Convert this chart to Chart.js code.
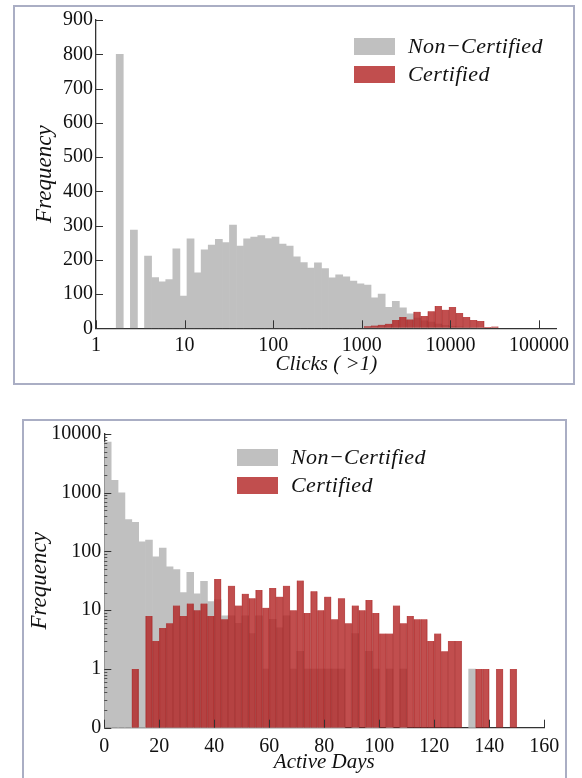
<!DOCTYPE html>
<html>
<head>
<meta charset="utf-8">
<script src="https://cdn.jsdelivr.net/npm/chart.js@4/dist/chart.umd.min.js"></script>
<style>
    body { margin: 0; background: #fff; width: 582px; height: 778px; overflow: hidden; position: relative; }
    .frame { position: absolute; box-sizing: border-box; border: 2.5px solid rgb(170, 174, 196); }
    canvas { position: absolute; left: 0; }
    .legend { position: absolute; font-family: 'Liberation Serif', serif; font-style: italic; font-size: 22px; letter-spacing: 0.4px; color: #111; }
    .legend .item { position: absolute; white-space: nowrap; }
    .legend .box { position: absolute; width: 41px; height: 17px; }
    .legend .txt { position: absolute; left: 54px; top: -5px; }
</style>
</head>
<body>
<div class="frame" style="left:13px; top:5px; width:562px; height:380px;"></div>
<div class="frame" style="left:22px; top:419px; width:545px; height:400px;"></div>
<canvas id="clicksChart" width="582" height="400" style="top:0"></canvas>
<canvas id="daysChart" width="582" height="378" style="top:400px"></canvas>
<div id="clicksLegend" class="legend" style="left:354px; top:38px;"></div>
<div id="daysLegend" class="legend" style="left:237px; top:449px;"></div>
<script>
    // top histogram: clicks, log10 bins
    const clickEdge0 = 0.228;
    const clickBinW = 0.0799;
    const nonCertClicks = [800, 0, 287, 0, 211, 148, 136, 142, 232, 94,
        261, 162, 229, 243, 260, 250, 301, 240, 261, 266,
        271, 262, 266, 246, 240, 209, 192, 176, 191, 174,
        147, 156, 150, 138, 130, 126, 89, 100, 61, 79,
        60, 42, 30, 22, 18, 12, 9, 6, 4, 3,
        2, 1, 0, 0];
    const certClicks = [0, 0, 0, 0, 0, 0, 0, 0, 0, 0,
        0, 0, 0, 0, 0, 0, 0, 0, 0, 0,
        0, 0, 0, 0, 0, 0, 0, 0, 0, 0,
        0, 0, 0, 0, 0, 6, 8, 10, 13, 24,
        33, 26, 48, 36, 50, 65, 54, 62, 45, 33,
        24, 21, 4, 5];
    const clickTicks = [1, 10, 100, 1000, 10000, 100000];
    const freqTicks = [0, 100, 200, 300, 400, 500, 600, 700, 800, 900];

    // bottom histogram: active days, bins of 2.5 days
    const dayBinW = 2.5;
    const nonCertDays = [7300, 1620, 1000, 350, 312, 146, 156, 81, 114, 55,
        49, 20, 44, 19, 31, 14, 15, 8, 8, 6,
        8, 4, 8, 1, 7, 5, 8, 1, 2, 1,
        1, 1, 1, 1, 1, 0, 4, 0, 2, 1,
        0, 1, 0, 1, 0, 0, 0, 0, 0, 0,
        0, 0, 0, 1, 0, 0, 0, 0, 0, 0];
    const certDays = [0, 0, 0, 0, 1, 0, 8, 3, 5, 6,
        12, 8, 13, 10, 13, 8, 34, 7, 26, 12,
        19, 16, 22, 11, 24, 17, 26, 10, 32, 9,
        21, 10, 17, 7, 16, 6, 12, 10, 15, 9,
        4, 4, 12, 6, 8, 7, 7, 3, 4, 2,
        3, 3, 0, 0, 1, 1, 0, 1, 0, 1];
    const dayTicks = [0, 20, 40, 60, 80, 100, 120, 140, 160];
    const logFreqTicks = [0.1, 1, 10, 100, 1000, 10000];

    const labels = ['Non\u2212Certified', 'Certified'];
    const grey = 'rgb(192, 192, 192)';
    const red = 'rgba(178, 34, 34, 0.8)';
    const serif = "'Liberation Serif', 'DejaVu Serif', serif";

    function toPoints(xs, ys) {
        return ys.map((y, i) => ({ x: xs[i], y: y > 0 ? y : null }));
    }

    function datasets(xs, grey_ys, red_ys) {
        return [{
            label: labels[0],
            data: toPoints(xs, grey_ys),
            backgroundColor: grey,
            borderWidth: 0,
            order: 2
        }, {
            label: labels[1],
            data: toPoints(xs, red_ys),
            backgroundColor: red,
            borderColor: 'rgba(150, 20, 20, 0.55)',
            borderWidth: { left: 0.6, right: 0.6, top: 0, bottom: 0 },
            order: 1
        }];
    }

    // ticks pointing into the plot, like the original figure
    const inwardTicks = {
        id: 'inwardTicks',
        afterDatasetsDraw(chart, args, opts) {
            const { ctx, chartArea, scales } = chart;
            ctx.save();
            ctx.strokeStyle = '#333';
            ctx.lineWidth = 1;
            function line(x1, y1, x2, y2) {
                ctx.beginPath();
                ctx.moveTo(x1, y1);
                ctx.lineTo(x2, y2);
                ctx.stroke();
            }
            scales.x.ticks.forEach(t => {
                const px = Math.round(scales.x.getPixelForValue(t.value)) + 0.5;
                line(px, chartArea.bottom, px, chartArea.bottom - 8);
            });
            scales.y.ticks.forEach(t => {
                const py = Math.round(scales.y.getPixelForValue(t.value)) + 0.5;
                line(chartArea.left, py, chartArea.left + 7, py);
            });
            if (opts.minorY) {
                ctx.lineWidth = 0.8;
                [0.1, 1, 10, 100, 1000].forEach(d => {
                    for (let m = 2; m < 10; m++) {
                        const py = Math.round(scales.y.getPixelForValue(m * d)) + 0.5;
                        line(chartArea.left, py, chartArea.left + 3, py);
                    }
                });
            }
            ctx.restore();
        }
    };

    function axisCommon(titleSize) {
        return {
            grid: { display: true, drawOnChartArea: false, drawTicks: false, offset: false },
            border: { display: true, color: '#333', width: 1.3 },
            ticks: { color: '#111', font: { family: serif, size: 20 } },
            title: { display: true, color: '#111', font: { family: serif, size: titleSize, style: 'italic' } }
        };
    }

    function buildLegend(chart, id) {
        const el = document.getElementById(id);
        chart.data.datasets.forEach((ds, i) => {
            const item = document.createElement('div');
            item.className = 'item';
            item.style.top = (i * 28) + 'px';
            item.innerHTML = '<div class="box" style="background:' + ds.backgroundColor + '"></div>' +
                '<div class="txt">' + ds.label + '</div>';
            el.appendChild(item);
        });
    }

    // ---- clicks chart
    const clickCenters = nonCertClicks.map((_, i) => Math.pow(10, clickEdge0 + (i + 0.5) * clickBinW));
    const cx = axisCommon(21);
    const cy = axisCommon(23);
    const clicksChart = new Chart(document.getElementById('clicksChart'), {
        type: 'bar',
        data: { datasets: datasets(clickCenters, nonCertClicks, certClicks) },
        options: {
            responsive: false,
            animation: false,
            grouped: false,
            barPercentage: 1,
            categoryPercentage: 1,
            layout: { padding: { left: 0, top: 20, right: 25.3, bottom: 21.7 } },
            plugins: { legend: { display: false }, tooltip: { enabled: false }, inwardTicks: {} },
            scales: {
                x: Object.assign(cx, {
                    type: 'logarithmic',
                    offset: false,
                    min: 1,
                    max: 158489,
                    afterBuildTicks: s => { s.ticks = clickTicks.map(v => ({ value: v })); },
                    afterFit: s => { s.height = 50; },
                    ticks: Object.assign(cx.ticks, { padding: 5, maxRotation: 0, callback: v => String(v) }),
                    title: Object.assign(cx.title, { text: 'Clicks ( >1)', padding: { top: 0, bottom: 1 } })
                }),
                y: Object.assign(cy, {
                    min: 0,
                    max: 900,
                    afterBuildTicks: s => { s.ticks = freqTicks.map(v => ({ value: v })); },
                    afterFit: s => { s.width = 96; },
                    ticks: Object.assign(cy.ticks, { padding: 3 }),
                    title: Object.assign(cy.title, { text: 'Frequency', padding: { top: 31, bottom: 0 } })
                })
            }
        },
        plugins: [inwardTicks]
    });
    buildLegend(clicksChart, 'clicksLegend');

    // ---- active days chart
    const dayCenters = nonCertDays.map((_, i) => (i + 0.5) * dayBinW);
    const dx = axisCommon(21);
    const dy = axisCommon(23);
    const daysChart = new Chart(document.getElementById('daysChart'), {
        type: 'bar',
        data: { datasets: datasets(dayCenters, nonCertDays, certDays) },
        options: {
            responsive: false,
            animation: false,
            grouped: false,
            barPercentage: 1,
            categoryPercentage: 1,
            layout: { padding: { left: 0, top: 34, right: 37.7, bottom: 3.4 } },
            plugins: { legend: { display: false }, tooltip: { enabled: false }, inwardTicks: { minorY: true } },
            scales: {
                x: Object.assign(dx, {
                    type: 'linear',
                    offset: false,
                    min: 0,
                    max: 160,
                    afterBuildTicks: s => { s.ticks = dayTicks.map(v => ({ value: v })); },
                    afterFit: s => { s.height = 46.9; },
                    ticks: Object.assign(dx.ticks, { padding: 7, maxRotation: 0 }),
                    title: Object.assign(dx.title, { text: 'Active Days', padding: { top: 0, bottom: 0 } })
                }),
                y: Object.assign(dy, {
                    type: 'logarithmic',
                    min: 0.1,
                    max: 10000,
                    afterBuildTicks: s => { s.ticks = logFreqTicks.map(v => ({ value: v })); },
                    afterFit: s => { s.width = 104.3; },
                    ticks: Object.assign(dy.ticks, { padding: 3, callback: v => (v < 1 ? '0' : String(v)) }),
                    title: Object.assign(dy.title, { text: 'Frequency', padding: { top: 26, bottom: 0 } })
                })
            }
        },
        plugins: [inwardTicks]
    });
    buildLegend(daysChart, 'daysLegend');
</script>
</body>
</html>
